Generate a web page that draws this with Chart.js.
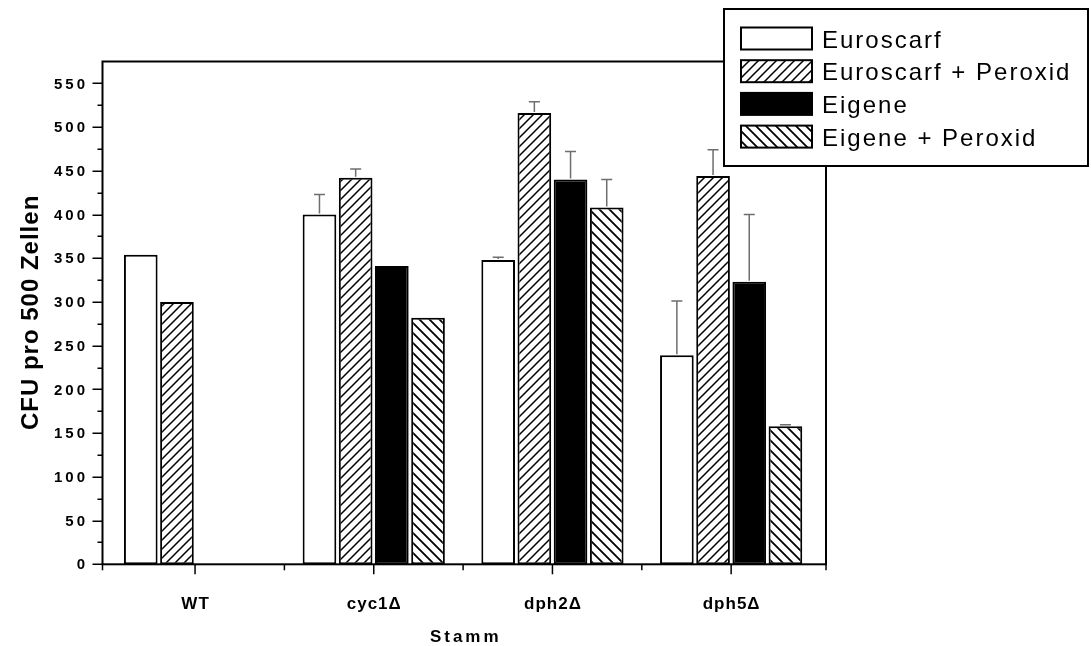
<!DOCTYPE html>
<html><head><meta charset="utf-8">
<script src="https://cdn.jsdelivr.net/npm/chart.js@4.4.1/dist/chart.umd.min.js"></script>
<style>html,body{margin:0;padding:0;background:#fff}#wrap{width:1091px;height:646px}</style>
</head><body><div id="wrap"><canvas id="c" width="1091" height="646"></canvas></div>
<script>
// ---- data ----
const categories = ['WT', 'cyc1\u0394', 'dph2\u0394', 'dph5\u0394'];
const seriesNames = ['Euroscarf', 'Euroscarf + Peroxid', 'Eigene', 'Eigene + Peroxid'];
const euroscarf        = [354, 400, 348, 239];
const euroscarfErr     = [0,   23,  3,   62];
const euroscarfPeroxid = [300, 442, 516, 444];
const euroscarfPeroxidErr = [0, 10, 13, 30];
const eigene           = [null, 341, 440, 323];
const eigeneErr        = [null, 0,   32,  77];
const eigenePeroxid    = [null, 282, 408, 158];
const eigenePeroxidErr = [null, 0,   32,  1.5];
const yTickValues = [0, 50, 100, 150, 200, 250, 300, 350, 400, 450, 500, 550];
const yTitle = 'CFU pro 500 Zellen';
const xTitle = 'Stamm';

const canvas = document.getElementById('c');
const ctx0 = canvas.getContext('2d');

function hatch(dir, size, lw) {
  const c = document.createElement('canvas');
  c.width = size; c.height = size;
  const g = c.getContext('2d');
  g.fillStyle = '#fff'; g.fillRect(0, 0, size, size);
  g.strokeStyle = '#000'; g.lineWidth = lw; g.lineCap = 'square';
  g.beginPath();
  if (dir > 0) {
    g.moveTo(-size, 2 * size); g.lineTo(2 * size, -size);
    g.moveTo(-2 * size, 2 * size); g.lineTo(size, -size);
    g.moveTo(0, 2 * size); g.lineTo(3 * size, -size);
  } else {
    g.moveTo(-size, -size); g.lineTo(2 * size, 2 * size);
    g.moveTo(-2 * size, -size); g.lineTo(size, 2 * size);
    g.moveTo(0, -size); g.lineTo(3 * size, 2 * size);
  }
  g.stroke();
  return ctx0.createPattern(c, 'repeat');
}

const fills = ['#ffffff', hatch(1, 9, 1.5), '#000000', hatch(-1, 10, 1.8)];
const errs = [euroscarfErr, euroscarfPeroxidErr, eigeneErr, eigenePeroxidErr];
const values = [euroscarf, euroscarfPeroxid, eigene, eigenePeroxid];

const FRAME_L = 102.5, FRAME_R = 826;

const errorBars = {
  id: 'errorBars',
  afterDatasetsDraw(chart) {
    const ctx = chart.ctx, y = chart.scales.y;
    ctx.save();
    ctx.strokeStyle = '#6e6e6e';
    ctx.lineWidth = 1.5;
    chart.data.datasets.forEach((ds, di) => {
      const meta = chart.getDatasetMeta(di);
      meta.data.forEach((bar, i) => {
        const v = ds.data[i], e = errs[di][i];
        if (v == null || !e) return;
        const yt = y.getPixelForValue(v + e);
        const yb = y.getPixelForValue(v) - 1;
        ctx.beginPath();
        ctx.moveTo(bar.x, yb); ctx.lineTo(bar.x, yt);
        ctx.moveTo(bar.x - 5.5, yt); ctx.lineTo(bar.x + 5.5, yt);
        ctx.stroke();
      });
    });
    ctx.restore();
  }
};

const frame = {
  id: 'frame',
  afterDraw(chart) {
    const ctx = chart.ctx, y = chart.scales.y, x = chart.scales.x;
    const top = chart.chartArea.top, bot = chart.chartArea.bottom;
    ctx.save();
    ctx.strokeStyle = '#000';
    ctx.lineWidth = 2;
    // frame
    ctx.strokeRect(FRAME_L, top, FRAME_R - FRAME_L, bot - top);
    // y ticks
    ctx.lineWidth = 1.5;
    for (let v = 0; v <= 550; v += 25) {
      const py = Math.round(y.getPixelForValue(v)) + 0.25;
      const len = v % 50 === 0 ? 10 : 5;
      ctx.beginPath(); ctx.moveTo(FRAME_L - len, py); ctx.lineTo(FRAME_L, py); ctx.stroke();
    }
    // x ticks
    const centers = categories.map((c, i) => x.getPixelForValue(i));
    centers.forEach(px => {
      ctx.beginPath(); ctx.moveTo(px, bot); ctx.lineTo(px, bot + 10); ctx.stroke();
    });
    const minors = [FRAME_L];
    for (let i = 0; i < centers.length - 1; i++) minors.push((centers[i] + centers[i + 1]) / 2);
    minors.push(FRAME_R);
    minors.forEach(px => {
      ctx.beginPath(); ctx.moveTo(px, bot); ctx.lineTo(px, bot + 6); ctx.stroke();
    });
    // y labels
    ctx.fillStyle = '#000';
    ctx.font = 'bold 15px "Liberation Sans", Arial';
    ctx.letterSpacing = '3px';
    ctx.textAlign = 'right';
    ctx.textBaseline = 'middle';
    yTickValues.forEach(v => {
      ctx.fillText(String(v), 85 + 3, y.getPixelForValue(v) + 1);
    });
    // x labels
    ctx.font = 'bold 17px "Liberation Sans", Arial';
    ctx.letterSpacing = '1px';
    ctx.textAlign = 'center';
    categories.forEach((c, i) => {
      ctx.fillText(c, centers[i] + 0.5, 604);
    });
    // x title
    ctx.font = 'bold 17px "Liberation Sans", Arial';
    ctx.letterSpacing = '3px';
    ctx.fillText(xTitle, (FRAME_L + FRAME_R) / 2 + 1.5, 637);
    // y title
    ctx.letterSpacing = '1px';
    ctx.font = 'bold 24px "Liberation Sans", Arial';
    ctx.save();
    ctx.translate(31, (top + bot) / 2);
    ctx.rotate(-Math.PI / 2);
    ctx.fillText(yTitle, 0.5, 0);
    ctx.restore();
    // legend
    const LX = 724, LY = 9, LW = 364, LH = 157;
    ctx.fillStyle = '#fff';
    ctx.fillRect(LX, LY, LW, LH);
    ctx.lineWidth = 2;
    ctx.strokeStyle = '#000';
    ctx.strokeRect(LX, LY, LW, LH);
    ctx.font = '24px "Liberation Sans", Arial';
    ctx.letterSpacing = '2px';
    ctx.textAlign = 'left';
    ctx.textBaseline = 'alphabetic';
    chart.data.datasets.forEach((ds, i) => {
      const sy = 27.5 + i * 32.7;
      ctx.fillStyle = ds.backgroundColor;
      ctx.fillRect(741, sy, 71, 22);
      ctx.strokeRect(741, sy, 71, 22);
      ctx.fillStyle = '#000';
      ctx.fillText(ds.label, 822, sy + 20);
    });
    ctx.restore();
  }
};

new Chart(canvas, {
  type: 'bar',
  data: {
    labels: categories,
    datasets: values.map((d, i) => ({
      label: seriesNames[i],
      data: d,
      backgroundColor: fills[i],
      borderColor: '#000',
      borderWidth: 2,
      borderSkipped: false,
      categoryPercentage: 0.81,
      barPercentage: 0.93
    }))
  },
  options: {
    responsive: false,
    animation: false,
    devicePixelRatio: 1,
    layout: { padding: { left: 105.7, right: 270.5, top: 61.5, bottom: 81.7 } },
    plugins: { legend: { display: false }, tooltip: { enabled: false } },
    scales: {
      x: { display: false },
      y: { display: false, min: 0, max: 575 }
    }
  },
  plugins: [errorBars, frame]
});
</script>
</body></html>
